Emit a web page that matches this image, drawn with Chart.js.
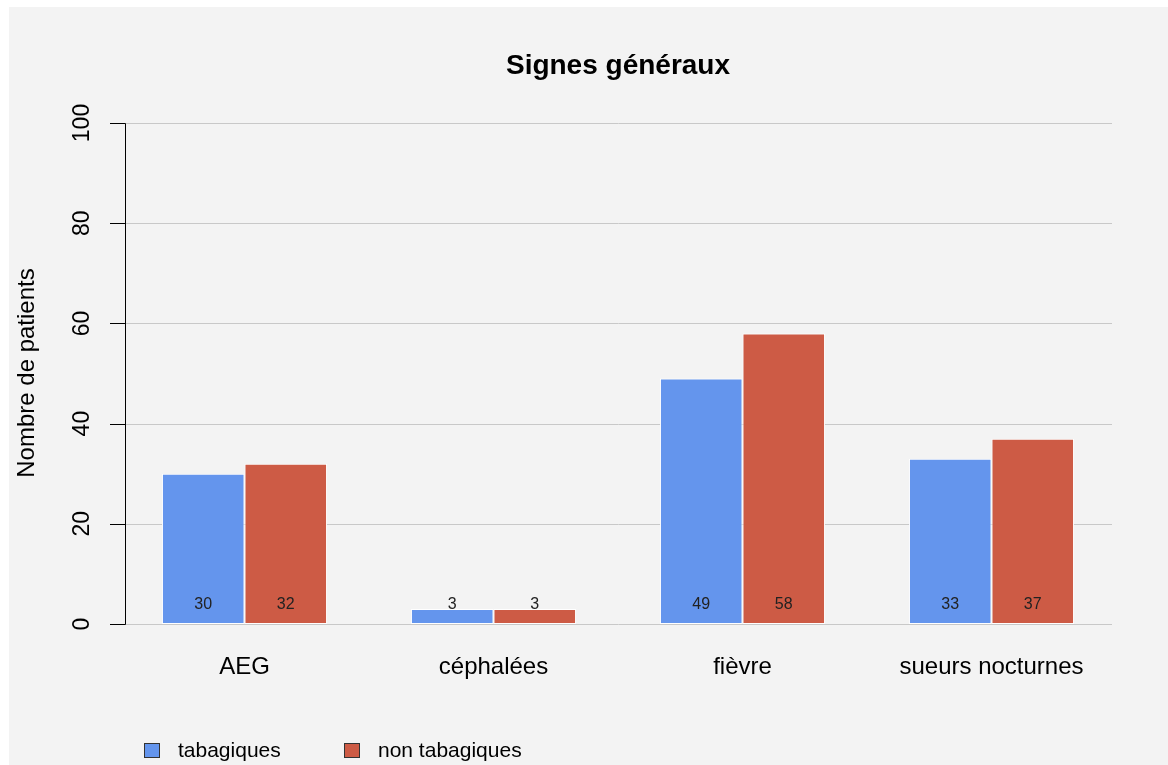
<!DOCTYPE html>
<html>
<head>
<meta charset="utf-8">
<script src="https://cdn.jsdelivr.net/npm/chart.js@4/dist/chart.umd.min.js"></script>
<style>
  html, body { margin: 0; padding: 0; background: #fff; }
  canvas { display: block; }
</style>
</head>
<body>
<canvas id="myChart" width="1168" height="765"></canvas>
<script>
const categories = ['AEG', 'céphalées', 'fièvre', 'sueurs nocturnes'];
const tabagiques = [30, 3, 49, 33];
const nonTabagiques = [32, 3, 58, 37];
const yTicks = [0, 20, 40, 60, 80, 100];
const seriesNames = ['tabagiques', 'non tabagiques'];

const FONT = '"Liberation Sans", Arial, sans-serif';
const BLUE = '#6495ED';
const RED = '#CD5B45';

// dessin du fond, de la grille, des textes
const decor = {
  id: 'decor',
  beforeDraw(chart) {
    const c = chart.ctx;
    c.save();
    c.fillStyle = '#ffffff';
    c.fillRect(0, 0, chart.width, chart.height);
    c.fillStyle = '#f3f3f3';
    c.fillRect(9, 7, chart.width - 9, chart.height - 7);
    c.restore();
  },
  beforeDatasetsDraw(chart) {
    const c = chart.ctx;
    const y = chart.scales.y;
    c.save();
    c.strokeStyle = '#c8c8c8';
    c.lineWidth = 1;
    yTicks.forEach((v) => {
      const py = Math.round(y.getPixelForValue(v)) + 0.5;
      c.beginPath();
      c.moveTo(125, py);
      c.lineTo(1112, py);
      c.stroke();
    });
    // axe + graduations
    c.strokeStyle = '#000';
    c.beginPath();
    c.moveTo(125.5, Math.round(y.getPixelForValue(100)) + 0.5);
    c.lineTo(125.5, Math.round(y.getPixelForValue(0)) + 0.5);
    c.stroke();
    yTicks.forEach((v) => {
      const py = Math.round(y.getPixelForValue(v)) + 0.5;
      c.beginPath();
      c.moveTo(110, py);
      c.lineTo(125.5, py);
      c.stroke();
    });
    c.restore();
  },
  afterDatasetsDraw(chart) {
    const c = chart.ctx;
    const y0 = chart.scales.y.getPixelForValue(0);
    c.save();
    c.font = '16px ' + FONT;
    c.fillStyle = '#222';
    c.textAlign = 'center';
    c.textBaseline = 'middle';
    chart.data.datasets.forEach((ds, i) => {
      chart.getDatasetMeta(i).data.forEach((bar, j) => {
        c.fillText(String(ds.data[j]), bar.x, y0 - 19);
      });
    });
    c.restore();
  },
  afterDraw(chart) {
    const c = chart.ctx;
    const x = chart.scales.x;
    const y = chart.scales.y;
    c.save();
    c.fillStyle = '#000';
    c.textAlign = 'center';
    c.textBaseline = 'middle';

    // titre
    c.font = 'bold 28px ' + FONT;
    c.fillText('Signes généraux', 618, 66);

    // catégories
    c.font = '24px ' + FONT;
    categories.forEach((cat, i) => {
      c.fillText(cat, x.getPixelForValue(i), 667);
    });

    // graduations y tournées
    c.font = '23px ' + FONT;
    yTicks.forEach((v) => {
      c.save();
      c.translate(83, y.getPixelForValue(v));
      c.rotate(-Math.PI / 2);
      c.fillText(String(v), 0, 0);
      c.restore();
    });

    // titre axe y
    c.save();
    c.font = '24px ' + FONT;
    c.translate(27, 373);
    c.rotate(-Math.PI / 2);
    c.fillText('Nombre de patients', 0, 0);
    c.restore();

    // légende
    const legendX = [144, 344];
    c.font = '21px ' + FONT;
    c.textAlign = 'left';
    chart.data.datasets.forEach((ds, i) => {
      c.fillStyle = ds.backgroundColor;
      c.fillRect(legendX[i], 743, 15, 14);
      c.strokeStyle = '#333';
      c.lineWidth = 1;
      c.strokeRect(legendX[i] + 0.5, 743.5, 15, 14);
      c.fillStyle = '#000';
      c.fillText(ds.label, legendX[i] + 34, 751);
    });
    c.restore();
  }
};

const ctx = document.getElementById('myChart');

const data = {
  labels: categories,
  datasets: [
    {
      label: seriesNames[0],
      data: tabagiques,
      backgroundColor: BLUE,
      borderColor: '#ffffff',
      borderWidth: 1,
      borderSkipped: false,
    },
    {
      label: seriesNames[1],
      data: nonTabagiques,
      backgroundColor: RED,
      borderColor: '#ffffff',
      borderWidth: 1,
      borderSkipped: false,
    },
  ]
};

const config = {
  type: 'bar',
  data: data,
  options: {
    responsive: false,
    animation: false,
    devicePixelRatio: 1,
    layout: {
      padding: { left: 120, right: 52, top: 123, bottom: 141 }
    },
    datasets: {
      bar: { categoryPercentage: 0.663, barPercentage: 1 }
    },
    scales: {
      x: { display: false },
      y: { display: false, min: 0, max: 100 }
    },
    plugins: {
      legend: { display: false },
      tooltip: { enabled: false },
      title: { display: false }
    }
  },
  plugins: [decor]
};

var myChart = new Chart(ctx, config);
</script>
</body>
</html>
